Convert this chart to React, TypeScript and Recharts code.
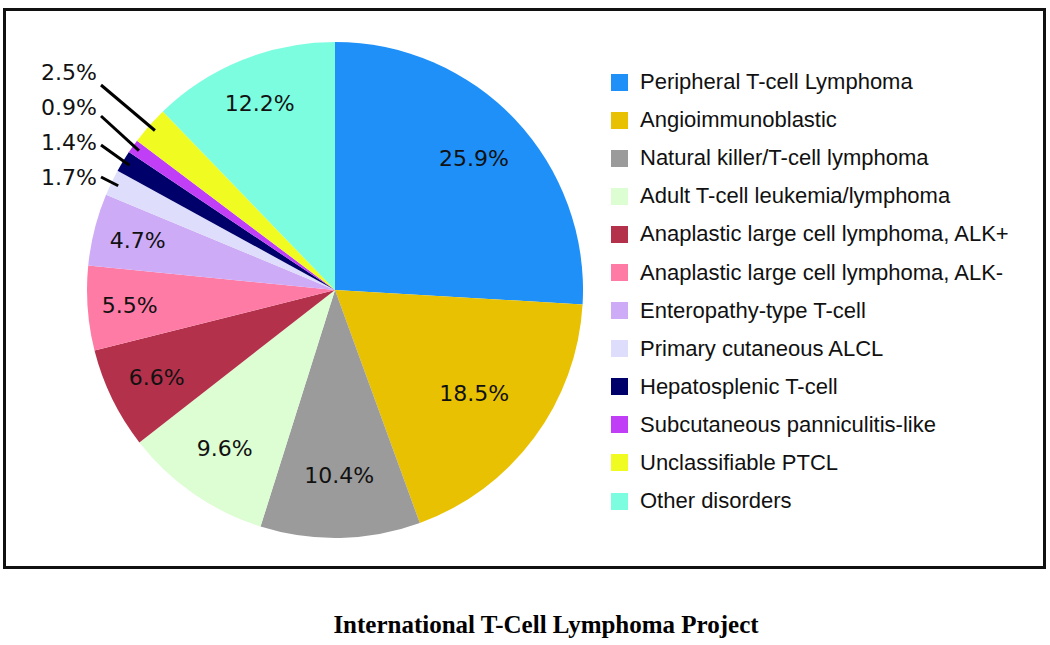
import { Cell, Legend, Pie, PieChart } from 'recharts';

const categories = [
  'Peripheral T-cell Lymphoma',
  'Angioimmunoblastic',
  'Natural killer/T-cell lymphoma',
  'Adult T-cell leukemia/lymphoma',
  'Anaplastic large cell lymphoma, ALK+',
  'Anaplastic large cell lymphoma, ALK-',
  'Enteropathy-type T-cell',
  'Primary cutaneous ALCL',
  'Hepatosplenic T-cell',
  'Subcutaneous panniculitis-like',
  'Unclassifiable PTCL',
  'Other disorders',
];

const shares = [25.9, 18.5, 10.4, 9.6, 6.6, 5.5, 4.7, 1.7, 1.4, 0.9, 2.5, 12.2];

const colors = [
  '#1E90F8',
  '#E9C103',
  '#9B9B9B',
  '#DDFDD3',
  '#B3314B',
  '#FE7BA6',
  '#CDABF6',
  '#DEDDFB',
  '#00006A',
  '#C03FF6',
  '#F0FB22',
  '#7CFDE0',
];

const data = categories.map((name, i) => ({ name, value: shares[i] }));

// label distance from centre, as a share of the radius
const labelRadius = [0.77, 0.7, 0.75, 0.78, 0.8, 0.83, 0.82, 1, 1, 1, 1, 0.81];
const labelFont = '"DejaVu Sans", sans-serif';
const RAD = Math.PI / 180;

function renderLabel(props: any) {
  const { cx, cy, midAngle, outerRadius, index, value } = props;
  const text = `${value.toFixed(1)}%`;
  if (value < 3) {
    // small slices: stacked at the upper left with a leader line
    const k = 10 - index;
    const tx = cx - 238;
    const ty = cy - 218 + k * 35;
    const lift = [13, 9, 3, 0][k];
    const ex = cx + outerRadius * 0.97 * Math.cos(-midAngle * RAD);
    const ey = cy + outerRadius * 0.97 * Math.sin(-midAngle * RAD);
    return (
      <g key={`lbl-${index}`}>
        <line x1={tx + 4} y1={ty + lift} x2={ex} y2={ey} stroke="#000" strokeWidth={3} />
        <text
          x={tx}
          y={ty}
          textAnchor="end"
          dominantBaseline="central"
          fill="#111"
          fontSize={22}
          fontFamily={labelFont}
        >
          {text}
        </text>
      </g>
    );
  }
  const r = outerRadius * labelRadius[index];
  const x = cx + r * Math.cos(-midAngle * RAD);
  const y = cy + r * Math.sin(-midAngle * RAD);
  return (
    <text
      key={`lbl-${index}`}
      x={x}
      y={y}
      textAnchor="middle"
      dominantBaseline="central"
      fill="#111"
      fontSize={22}
      fontFamily={labelFont}
    >
      {text}
    </text>
  );
}

function LegendList() {
  return (
    <div style={{ fontFamily: '"Liberation Sans", Arial, sans-serif', fontSize: 22, color: '#111' }}>
      {categories.map((c, i) => (
        <div key={c} style={{ display: 'flex', alignItems: 'center', height: 38.1 }}>
          <span
            style={{
              display: 'inline-block',
              width: 17,
              height: 17,
              background: colors[i],
              marginRight: 12,
            }}
          />
          <span>{c}</span>
        </div>
      ))}
    </div>
  );
}

export default function App() {
  return (
    <div
      style={{
        position: 'absolute',
        left: 0,
        top: 0,
        width: 1050,
        height: 645,
        background: '#fff',
      }}
    >
      <div
        style={{
          position: 'absolute',
          left: 3,
          top: 8,
          width: 1037,
          height: 555,
          border: '3px solid #111',
        }}
      />
      <div style={{ position: 'absolute', left: 0, top: 0 }}>
        <PieChart width={1050} height={645} margin={{ top: 0, right: 0, bottom: 0, left: 0 }}>
          <Pie
            data={data}
            dataKey="value"
            nameKey="name"
            cx={335}
            cy={290}
            outerRadius={248}
            startAngle={90}
            endAngle={-270}
            stroke="none"
            label={renderLabel}
            labelLine={false}
            isAnimationActive={false}
          >
            {data.map((d, i) => (
              <Cell key={d.name} fill={colors[i]} />
            ))}
          </Pie>
          <Legend
            layout="vertical"
            verticalAlign="top"
            align="right"
            wrapperStyle={{ left: 611, top: 63, width: 420 }}
            content={() => <LegendList />}
          />
        </PieChart>
      </div>
      <div
        style={{
          position: 'absolute',
          left: 0,
          width: 1092,
          top: 611,
          textAlign: 'center',
          fontFamily: '"Liberation Serif", "Times New Roman", serif',
          fontWeight: 'bold',
          fontSize: 25,
          color: '#000',
        }}
      >
        International T-Cell Lymphoma Project
      </div>
    </div>
  );
}
